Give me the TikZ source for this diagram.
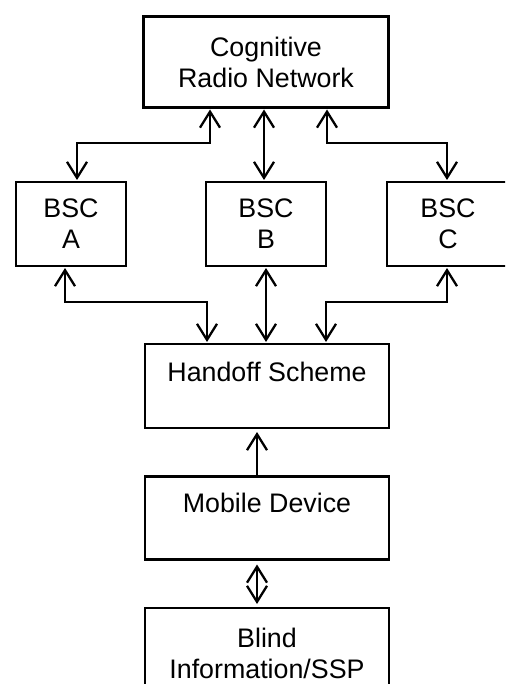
\documentclass[tikz,border=0pt]{standalone}
\usepackage{fontspec}
\setmainfont{Liberation Sans}
\usetikzlibrary{arrows.meta}

\begin{document}
\begin{tikzpicture}[x=1pt,y=-1pt,
	blk/.style={draw,line width=2.3pt,inner sep=0,outer sep=0,align=center,font=\fontsize{26.8}{31}\selectfont},
	con/.style={line width=2.3pt,arrows={Straight Barb[length=16pt,width=20pt]-Straight Barb[length=16pt,width=20pt]},shorten <=2pt,shorten >=2pt},
	one/.style={line width=2.3pt,-{Straight Barb[length=16pt,width=20pt]},shorten >=4pt}]
	\path[use as bounding box,clip] (0,0) rectangle (505,684);
	\node[blk,minimum width=245,minimum height=91] (crn) at (266,62) {Cognitive\\Radio Network};
	\node[blk,minimum width=110,minimum height=84] (a) at (71,224) {BSC\\A};
	\node[blk,minimum width=120,minimum height=84] (b) at (266,224) {BSC\\B};
	\node[blk,minimum width=122,minimum height=84] (c) at (448,224) {BSC\\C};
	\node[blk,minimum width=244,minimum height=84,text height=18pt,text depth=28pt] (hs) at (267,386) {Handoff Scheme};
	\node[blk,minimum width=244,minimum height=83,text height=18pt,text depth=29pt] (md) at (267,518) {Mobile Device};
	\node[blk,minimum width=244,minimum height=90] (bi) at (267,653) {Blind\\Information/SSP};
	\coordinate (t1) at (210,143);
	\coordinate (t3) at (327,143);
	\coordinate (h1) at (207,302);
	\coordinate (h3) at (326,302);
	\draw[con] (t1 |- crn.south) -- (t1) -| ([xshift=6pt]a.north);
	\draw[con] (b.north -| 264,0) -- (crn.south -| 264,0);
	\draw[con] (t3 |- crn.south) -- (t3) -| ([xshift=-1pt]c.north);
	\draw[con] ([xshift=-6pt]a.south) |- (h1) -- (h1 |- hs.north);
	\draw[con] (b.south) -- (hs.north -| b.south);
	\draw[con] ([xshift=-1pt]c.south) |- (h3) -- (h3 |- hs.north);
	\draw[one] ([xshift=-10pt]md.north) -- ([xshift=-10pt]hs.south);
	\draw[con,shorten <=5pt,shorten >=4pt] ([xshift=-10pt]md.south) -- ([xshift=-10pt]bi.north);
\end{tikzpicture}
\end{document}
